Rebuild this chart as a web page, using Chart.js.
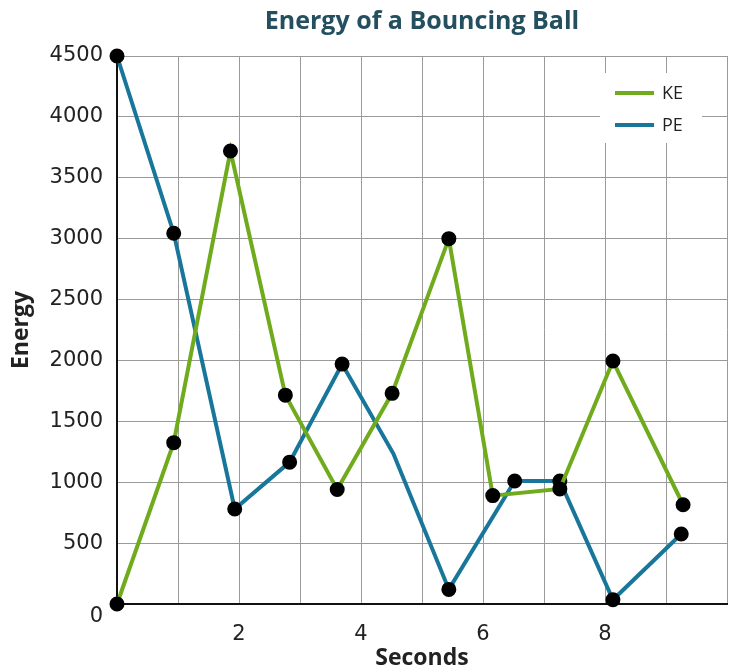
<!DOCTYPE html>
<html>
<head>
<meta charset="utf-8">
<script src="https://cdn.jsdelivr.net/npm/chart.js@4.4.0/dist/chart.umd.min.js"></script>
<style>
  html, body { margin: 0; padding: 0; background: #fff; }
  #wrap { width: 733px; height: 668px; }
</style>
</head>
<body>
<div id="wrap"><canvas id="myChart" width="733" height="668"></canvas></div>
<script>
// datos
const keSegundos = [0, 0.93, 1.86, 2.76, 3.61, 4.51, 5.44, 6.16, 7.26, 8.13, 9.28];
const keEnergia  = [0, 1325, 3720, 1715, 940, 1730, 3000, 890, 945, 1995, 815];

const peSegundos = [0, 0.93, 1.93, 2.83, 3.69, 4.53, 5.44, 6.52, 7.26, 8.13, 9.25];
const peEnergia  = [4500, 3045, 780, 1165, 1970, 1235, 120, 1010, 1010, 35, 575];
const peSinPunto = [5]; // quiebre de la linea sin marcador

const etiquetasX = [2, 4, 6, 8];
const etiquetas  = ['KE', 'PE'];
const titulo = 'Energy of a Bouncing Ball';

const verde = '#6fab1d';
const azul = '#17769a';

function juntar(xs, ys) {
    return xs.map((x, i) => ({ x: x, y: ys[i] }));
}

// titulo centrado sobre el area, leyenda interna y el cero del eje y
const extras = {
    id: 'extras',
    afterDraw(chart) {
        const ctx = chart.ctx;
        const area = chart.chartArea;
        ctx.save();

        ctx.fillStyle = '#244f5f';
        ctx.font = 'bold 25px "Open Sans"';
        ctx.textAlign = 'center';
        ctx.textBaseline = 'middle';
        ctx.fillText(titulo, (area.left + area.right) / 2, 22);

        const x0 = area.right - 127;
        const y0 = area.top + 17;
        ctx.fillStyle = '#fff';
        ctx.fillRect(x0, y0, 102, 70);
        ctx.textAlign = 'left';
        chart.data.datasets.forEach((ds, i) => {
            const y = y0 + 20 + i * 32;
            ctx.strokeStyle = ds.borderColor;
            ctx.lineWidth = 4;
            ctx.beginPath();
            ctx.moveTo(x0 + 15, y);
            ctx.lineTo(x0 + 54, y);
            ctx.stroke();
            ctx.fillStyle = '#222';
            ctx.font = '18px "Open Sans"';
            ctx.fillText(ds.label, x0 + 62, y + 1);
        });

        ctx.fillStyle = '#222';
        ctx.font = '21px "DejaVu Sans"';
        ctx.textAlign = 'right';
        ctx.fillText('0', area.left - 14, area.bottom + 13);
        ctx.restore();
    }
};

function dibujarGrafico() {
    const ctx = document.getElementById('myChart').getContext('2d');

    new Chart(ctx, {
        type: 'line',
        data: {
            datasets: [{
                label: etiquetas[0],
                data: juntar(keSegundos, keEnergia),
                borderColor: verde,
                borderWidth: 4,
                pointBackgroundColor: '#000',
                pointBorderColor: '#000',
                pointRadius: 5.5,
                tension: 0
            }, {
                label: etiquetas[1],
                data: juntar(peSegundos, peEnergia),
                borderColor: azul,
                borderWidth: 4,
                pointBackgroundColor: '#000',
                pointBorderColor: '#000',
                pointRadius: c => peSinPunto.includes(c.dataIndex) ? 0 : 5.5,
                tension: 0
            }]
        },
        options: {
            responsive: false,
            animation: false,
            clip: false,
            layout: { autoPadding: false, padding: { left: 0, right: 6, top: 56, bottom: 0 } },
            plugins: {
                legend: { display: false },
                tooltip: { enabled: false },
                title: { display: false }
            },
            scales: {
                x: {
                    type: 'linear',
                    min: 0,
                    max: 10,
                    afterFit: s => { s.height = 64; s.paddingLeft = 0; s.paddingRight = 0; },
                    ticks: {
                        stepSize: 1,
                        autoSkip: false,
                        maxRotation: 0,
                        padding: 18,
                        color: '#222',
                        font: { family: 'DejaVu Sans', size: 21 },
                        callback: v => etiquetasX.includes(v) ? String(v) : ''
                    },
                    grid: { color: '#9a9a9a', lineWidth: 1, drawTicks: false },
                    border: { color: '#111', width: 2 },
                    title: {
                        display: true,
                        text: 'Seconds',
                        color: '#222',
                        font: { family: 'Open Sans', size: 23, weight: 'bold', lineHeight: 0.8 },
                        padding: { top: 0, bottom: 0 }
                    }
                },
                y: {
                    min: 0,
                    max: 4500,
                    afterFit: s => { s.width = 117; },
                    ticks: {
                        stepSize: 500,
                        padding: 14,
                        color: '#222',
                        font: { family: 'DejaVu Sans', size: 21 },
                        callback: v => v === 0 ? '' : String(v)
                    },
                    grid: { color: '#9a9a9a', lineWidth: 1, drawTicks: false },
                    border: { color: '#111', width: 2 },
                    title: {
                        display: true,
                        text: 'Energy',
                        color: '#222',
                        font: { family: 'Open Sans', size: 23, weight: 'bold', lineHeight: 1 },
                        padding: { top: 10, bottom: 0 }
                    }
                }
            }
        },
        plugins: [extras]
    });
}

document.addEventListener("DOMContentLoaded", () => {
    dibujarGrafico();
});
</script>
</body>
</html>
